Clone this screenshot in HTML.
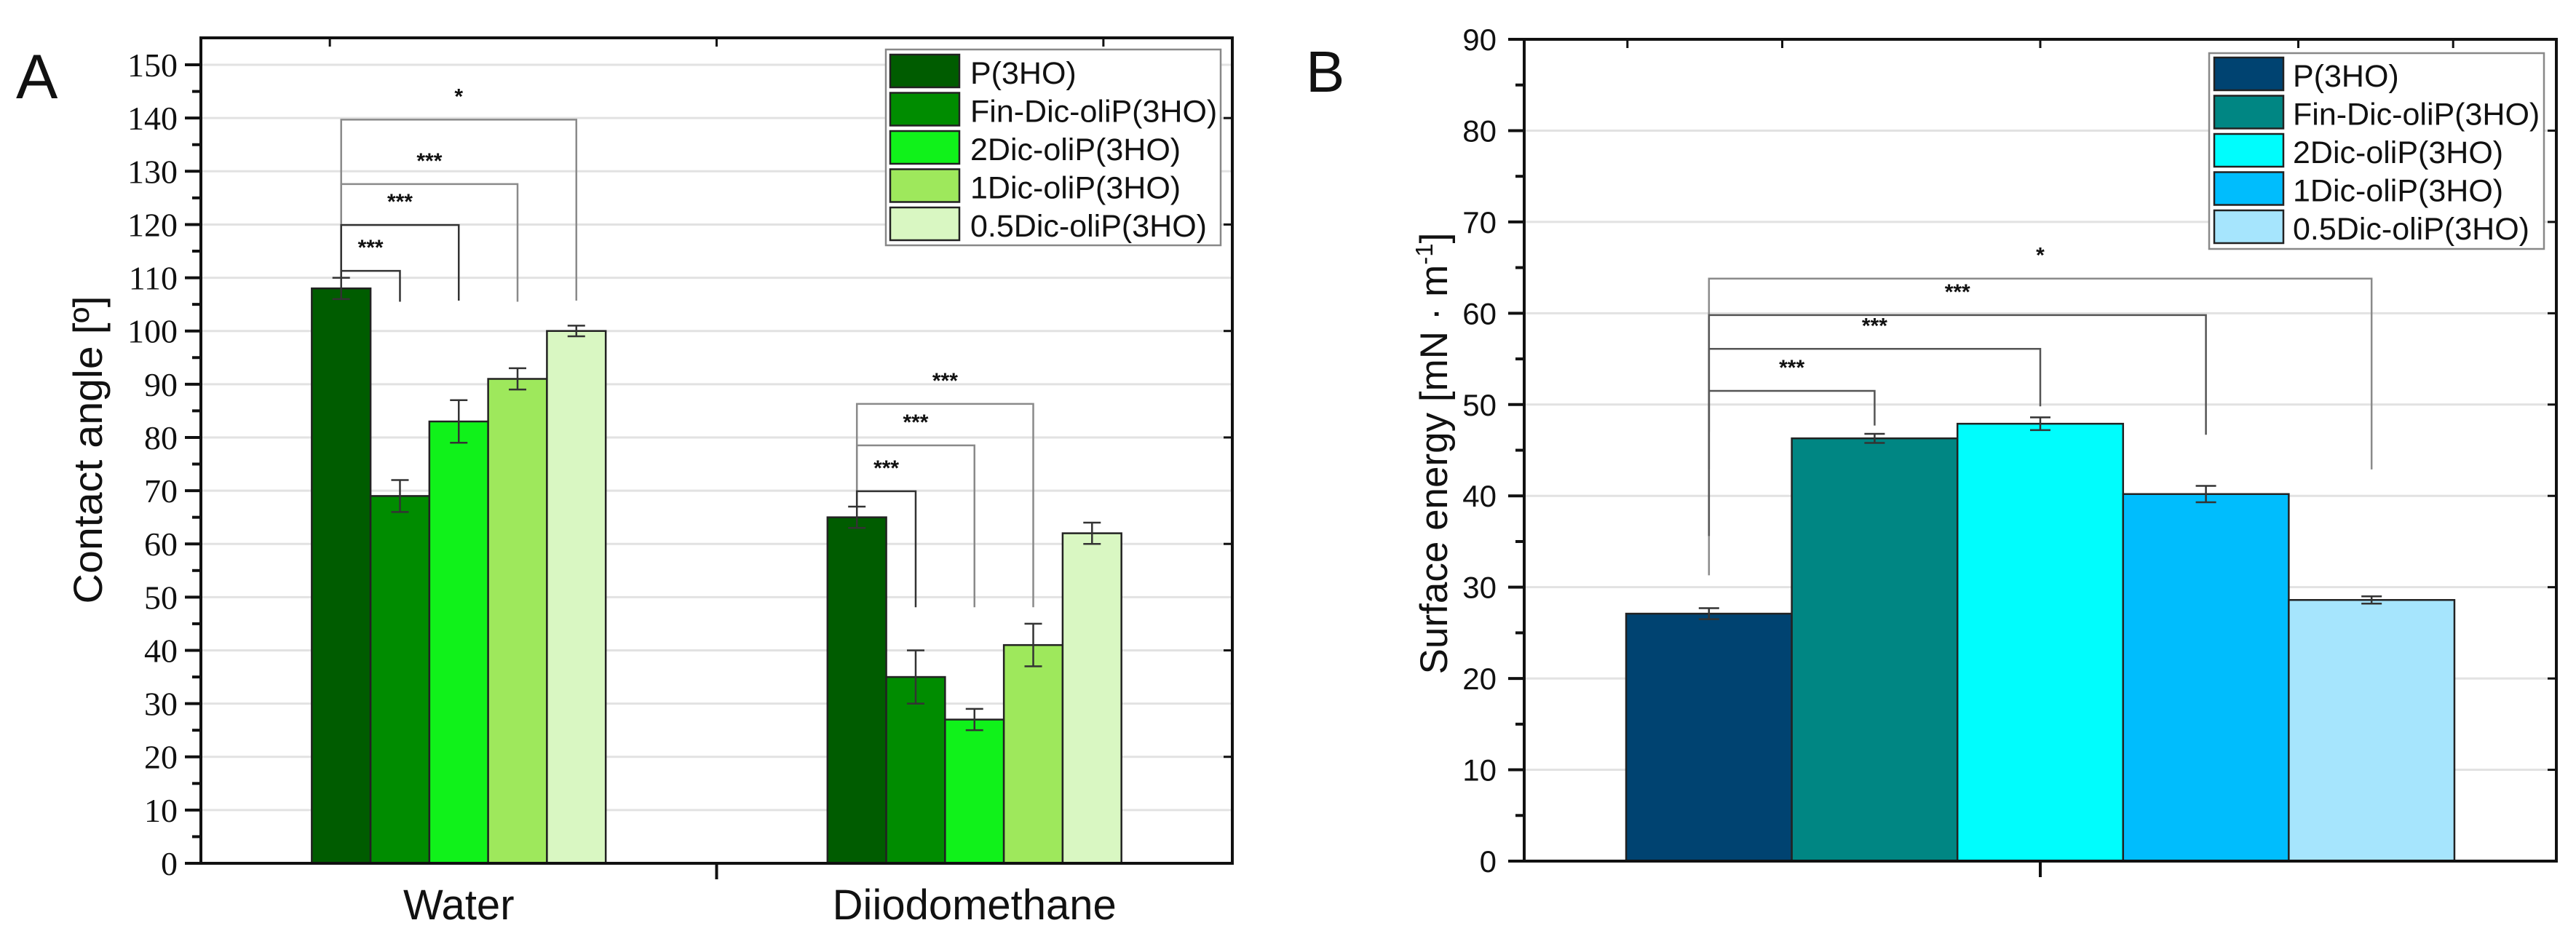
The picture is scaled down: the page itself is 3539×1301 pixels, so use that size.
<!DOCTYPE html>
<html><head><meta charset="utf-8">
<style>
html,body{margin:0;padding:0;background:#fff;}
svg{display:block;}
text{font-family:"Liberation Sans",sans-serif;fill:#111;}
.serif{font-family:"Liberation Serif",serif;}
</style></head>
<body>
<svg id="fig" width="3539" height="1301" viewBox="0 0 3539 1301" xmlns="http://www.w3.org/2000/svg"></svg>
<script>
// ---------- Panel A data ----------
const aCategories = ["Water", "Diiodomethane"];
const aSeries = ["P(3HO)", "Fin-Dic-oliP(3HO)", "2Dic-oliP(3HO)", "1Dic-oliP(3HO)", "0.5Dic-oliP(3HO)"];
const aWater = [108, 69, 83, 91, 100];
const aWaterErr = [2, 3, 4, 2, 1];
const aDiiodo = [65, 35, 27, 41, 62];
const aDiiodoErr = [2, 5, 2, 4, 2];
const aTicks = [0,10,20,30,40,50,60,70,80,90,100,110,120,130,140,150];
// brackets: [category, targetBar, bracketY, dropY, label]
const aBrWater = [[0,4,139.7,105.7,"*"],[0,3,127.6,105.5,"***"],[0,2,119.9,105.7,"***"],[0,1,111.3,105.5,"***"]];
const aBrDiiodo = [[1,3,86.3,48.1,"***"],[1,2,78.5,48.1,"***"],[1,1,69.9,48.1,"***"]];
// ---------- Panel B data ----------
const bSeries = ["P(3HO)", "Fin-Dic-oliP(3HO)", "2Dic-oliP(3HO)", "1Dic-oliP(3HO)", "0.5Dic-oliP(3HO)"];
const bValues = [27.1, 46.3, 47.9, 40.2, 28.6];
const bErr = [0.6, 0.5, 0.7, 0.9, 0.4];
const bTicks = [0,10,20,30,40,50,60,70,80,90];
const bBrackets = [[4,63.8,42.9,31.3,"*"],[3,59.8,46.7,35.6,"***"],[2,56.1,49.8,42.9,"***"],[1,51.5,47.7,47.0,"***"]];

const aColors = ["#005c00","#008c00","#10f21a","#9ee85c","#d9f7c2"];
const bColors = ["#004371","#008683","#00fdfd","#00bdfd","#a6e5fd"];

const NS = "http://www.w3.org/2000/svg";
const svg = document.getElementById("fig");
function el(tag, attrs, parent, txt){
  const e = document.createElementNS(NS, tag);
  for (const k in attrs) e.setAttribute(k, attrs[k]);
  if (txt !== undefined) e.textContent = txt;
  (parent || svg).appendChild(e);
  return e;
}

// ====== Panel A ======
const A = {x0:276, x1:1693, yTop:52, y0:1186, yPer:7.313};
const ay = v => A.y0 - v * A.yPer;
const ax = u => A.x0 + (u - 0.5) / 2 * (A.x1 - A.x0);
const aBarW = 0.114;
const aBarX = (c, i) => ax(c + 1 + (i - 2.5) * aBarW);

const gA = el("g", {});  
aTicks.forEach(t => { if (t>0) el("line",{x1:A.x0,x2:A.x1,y1:ay(t),y2:ay(t),stroke:"#e2e2e2","stroke-width":3},gA); });
[aWater, aDiiodo].forEach((vals, c) => {
  const errs = c === 0 ? aWaterErr : aDiiodoErr;
  vals.forEach((v, i) => {
    const xl = aBarX(c, i), xr = aBarX(c, i+1);
    const r = el("rect",{x:xl,y:ay(v),width:xr-xl,height:A.y0-ay(v),fill:aColors[i],stroke:"#222","stroke-width":2.5},gA);
    
    
    const cx = (xl+xr)/2, e = errs[i];
    el("path",{d:`M${cx},${ay(v+e)}V${ay(v-e)}M${cx-12},${ay(v+e)}H${cx+12}M${cx-12},${ay(v-e)}H${cx+12}`,stroke:"#333","stroke-width":2.5,fill:"none"},gA);
  });
});
aBrWater.concat(aBrDiiodo).forEach((b, k) => {
  const [c, j, yb, yd, lab] = b;
  const xl = (aBarX(c,0)+aBarX(c,1))/2, xr = (aBarX(c,j)+aBarX(c,j+1))/2;
  const gray = (k===0||k===1||k===4||k===5);
  const col = gray ? "#8a8a8a" : "#333";
  el("path",{d:`M${xl},${ay(c===0?110:67)}V${ay(yb)}H${xr}V${ay(yd)}`,stroke:col,"stroke-width":2.5,fill:"none"},gA);
  const t = el("text",{x:(xl+xr)/2,y:ay(yb)-22,"text-anchor":"middle","font-size":30,"font-weight":"bold"},gA,lab);
   
});
el("rect",{x:A.x0,y:A.yTop,width:A.x1-A.x0,height:A.y0-A.yTop,fill:"none",stroke:"#111","stroke-width":4},gA);
for (let v=0; v<=150; v+=5){
  const major = v%10===0;
  el("line",{x1:A.x0-(major?22:12),x2:A.x0,y1:ay(v),y2:ay(v),stroke:"#111","stroke-width":4},gA);
  if (major && v%20===0) el("line",{x1:A.x1-12,x2:A.x1,y1:ay(v),y2:ay(v),stroke:"#111","stroke-width":3},gA);
}
aTicks.forEach(t => {
  const tx = el("text",{x:A.x0-32,y:ay(t)+16,"text-anchor":"end","font-size":46,class:"serif"},gA,String(t));
   
});
el("line",{x1:ax(1.5),x2:ax(1.5),y1:A.y0,y2:A.y0+22,stroke:"#111","stroke-width":4},gA);
[ax(0.75), ax(1.5), ax(2.25)].forEach(x=>el("line",{x1:x,x2:x,y1:A.yTop,y2:A.yTop+12,stroke:"#111","stroke-width":3},gA));
aCategories.forEach((c,i)=>{
  const t = el("text",{x:ax(i+1),y:1263,"text-anchor":"middle","font-size":58},gA,c);
   
});
const aYT = el("text",{x:0,y:0,"text-anchor":"middle","font-size":56,textLength:423,lengthAdjust:"spacingAndGlyphs",transform:`translate(140,618) rotate(-90)`},gA,"Contact angle [º]");
 
const aLbl = el("text",{x:22,y:135,"font-size":86},gA,"A");
 
const lgA = el("g",{},gA);  
el("rect",{x:1217,y:68,width:460,height:269,fill:"#fff",stroke:"#888","stroke-width":2.5},lgA);
aSeries.forEach((s,i)=>{
  const yy = 75 + i*52.5;
  el("rect",{x:1223,y:yy,width:95,height:45,fill:aColors[i],stroke:"#222","stroke-width":2.5},lgA);
  const t = el("text",{x:1333,y:yy+40,"font-size":43},lgA,s);
   
});

// ====== Panel B ======
const B = {x0:2094, x1:3512, yTop:54, y0:1183, yPer:12.544};
const by = v => B.y0 - v * B.yPer;
const bx = u => B.x0 + (u - 0.5) * (B.x1 - B.x0);
const bBarW = 0.1605;
const bBarX = i => bx(1 + (i - 2.5) * bBarW);
const gB = el("g",{});  
bTicks.forEach(t => { if (t>0) el("line",{x1:B.x0,x2:B.x1,y1:by(t),y2:by(t),stroke:"#e2e2e2","stroke-width":3},gB); });
bValues.forEach((v,i)=>{
  const xl=bBarX(i), xr=bBarX(i+1);
  const r = el("rect",{x:xl,y:by(v),width:xr-xl,height:B.y0-by(v),fill:bColors[i],stroke:"#222","stroke-width":2.5},gB);
   
  const cx=(xl+xr)/2, e=bErr[i];
  el("path",{d:`M${cx},${by(v+e)}V${by(v-e)}M${cx-14},${by(v+e)}H${cx+14}M${cx-14},${by(v-e)}H${cx+14}`,stroke:"#333","stroke-width":2.5,fill:"none"},gB);
});
bBrackets.forEach((b,k)=>{
  const [j,yb,yd,yl,lab]=b;
  const xl=(bBarX(0)+bBarX(1))/2, xr=(bBarX(j)+bBarX(j+1))/2;
  const col = (k===0)?"#8a8a8a":"#555";
  el("path",{d:`M${xl},${by(yl)}V${by(yb)}H${xr}V${by(yd)}`,stroke:col,"stroke-width":2.5,fill:"none"},gB);
  const t = el("text",{x:(xl+xr)/2,y:by(yb)-22,"text-anchor":"middle","font-size":30,"font-weight":"bold"},gB,lab);
   
});
el("rect",{x:B.x0,y:B.yTop,width:B.x1-B.x0,height:B.y0-B.yTop,fill:"none",stroke:"#111","stroke-width":4},gB);
for (let v=0; v<=90; v+=5){
  const major=v%10===0;
  el("line",{x1:B.x0-(major?22:12),x2:B.x0,y1:by(v),y2:by(v),stroke:"#111","stroke-width":4},gB);
  if (major) el("line",{x1:B.x1-12,x2:B.x1,y1:by(v),y2:by(v),stroke:"#111","stroke-width":3},gB);
}
bTicks.forEach(t=>{
  const tx = el("text",{x:B.x0-38,y:by(t)+15,"text-anchor":"end","font-size":42},gB,String(t));
   
});
el("line",{x1:bx(1),x2:bx(1),y1:B.y0,y2:B.y0+22,stroke:"#111","stroke-width":4},gB);
[bx(0.6),bx(0.75),bx(1),bx(1.25),bx(1.4)].forEach(x=>el("line",{x1:x,x2:x,y1:B.yTop,y2:B.yTop+12,stroke:"#111","stroke-width":3},gB));
const bYT = el("text",{x:0,y:0,"text-anchor":"middle","font-size":53,transform:`translate(1988,623) rotate(-90)`},gB);
 
bYT.appendChild(document.createTextNode("Surface energy [mN · m"));
el("tspan",{"font-size":33,dy:-20},bYT,"-1");
el("tspan",{"font-size":53,dy:20},bYT,"]");
const bLbl = el("text",{x:1794,y:126,"font-size":80},gB,"B");
 
const lgB = el("g",{},gB);  
el("rect",{x:3035,y:73,width:460,height:269,fill:"#fff",stroke:"#888","stroke-width":2.5},lgB);
bSeries.forEach((s,i)=>{
  const yy = 79 + i*52.5;
  el("rect",{x:3042,y:yy,width:95,height:45,fill:bColors[i],stroke:"#222","stroke-width":2.5},lgB);
  const t = el("text",{x:3150,y:yy+40,"font-size":43},lgB,s);
   
});
</script>
</body></html>
